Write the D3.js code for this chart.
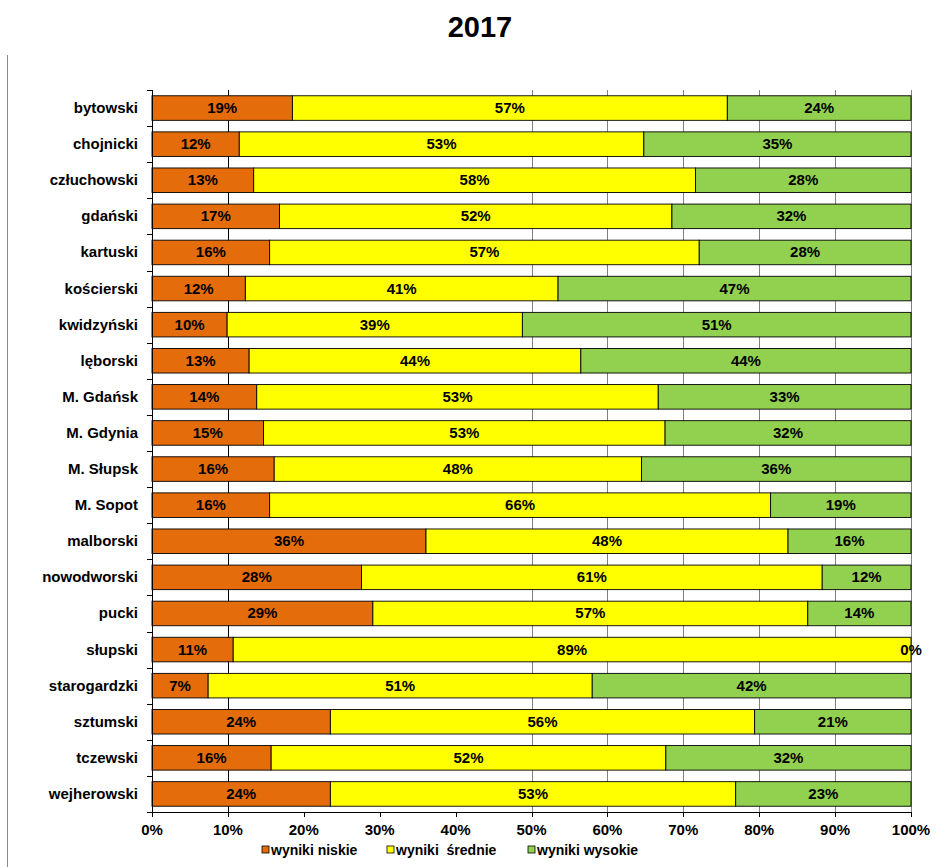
<!DOCTYPE html>
<html>
<head>
<meta charset="utf-8">
<script src="https://cdn.jsdelivr.net/npm/d3@7.9.0/dist/d3.min.js"></script>
<style>
  body { margin: 0; background: #fff; }
  svg text { font-family: "Liberation Sans", Arial, sans-serif; font-weight: bold; fill: #000; }
</style>
</head>
<body>
<svg id="chart" width="938" height="867"></svg>
<script>
// powiaty (top to bottom)
const categories = ['bytowski', 'chojnicki', 'człuchowski', 'gdański', 'kartuski', 'kościerski',
  'kwidzyński', 'lęborski', 'M. Gdańsk', 'M. Gdynia', 'M. Słupsk', 'M. Sopot', 'malborski',
  'nowodworski', 'pucki', 'słupski', 'starogardzki', 'sztumski', 'tczewski', 'wejherowski'];

// shares in %
const niskie  = [18.5, 11.5, 13.4, 16.8, 15.5, 12.3, 9.9, 12.8, 13.8, 14.7, 16.1, 15.5, 36.1, 27.6, 29.1, 10.7, 7.4, 23.5, 15.7, 23.5];
const srednie = [57.3, 53.3, 58.2, 51.7, 56.6, 41.2, 38.9, 43.7, 52.9, 52.9, 48.4, 66.0, 47.7, 60.7, 57.3, 89.3, 50.6, 55.9, 52.0, 53.4];
const wysokie = [24.2, 35.2, 28.4, 31.5, 27.9, 46.5, 51.2, 43.5, 33.3, 32.4, 35.5, 18.5, 16.2, 11.7, 13.6, 0.0, 42.0, 20.6, 32.3, 23.1];

const seriesKeys = ['niskie', 'srednie', 'wysokie'];
const seriesNames = ['wyniki niskie', 'wyniki  średnie', 'wyniki wysokie'];
const seriesColors = ['#e46c0a', '#ffff00', '#92d050'];

const xTicks = [0, 10, 20, 30, 40, 50, 60, 70, 80, 90, 100];
// gridlines that show in the picture
const gridTicks = [10, 50, 60, 70, 80, 90, 100];

const title = '2017';

const svg = d3.select('#chart');

const rows = categories.map((c, i) => ({
  cat: c, niskie: niskie[i], srednie: srednie[i], wysokie: wysokie[i]
}));

const x = d3.scaleLinear().domain([0, 100]).range([152, 911]);
const y = d3.scaleBand().domain(categories).range([90, 812])
  .paddingInner(0.32).paddingOuter(0.16);

const color = d3.scaleOrdinal().domain(seriesKeys).range(seriesColors);

/*frame line on the left*/
svg.append('line')
  .attr('x1', 7.5).attr('x2', 7.5).attr('y1', 55).attr('y2', 867)
  .attr('stroke', '#888').attr('stroke-width', 1);

/*title*/
svg.append('text')
  .attr('x', 480).attr('y', 37)
  .attr('text-anchor', 'middle')
  .style('font-size', '29px')
  .text(title);

/*gridlines*/
svg.append('g')
  .selectAll('line')
  .data(gridTicks)
  .join('line')
  .attr('x1', d => Math.round(x(d)) + 0.5)
  .attr('x2', d => Math.round(x(d)) + 0.5)
  .attr('y1', y.range()[0])
  .attr('y2', y.range()[1] + 5)
  .attr('stroke', d => d === 10 ? '#000' : '#808080')
  .attr('stroke-width', 1);

/*bars*/
const stacked = d3.stack().keys(seriesKeys)(rows);

const layer = svg.append('g')
  .selectAll('g')
  .data(stacked)
  .join('g')
  .attr('fill', d => color(d.key));

layer.selectAll('rect')
  .data(d => d)
  .join('rect')
  .attr('x', d => x(d[0]))
  .attr('y', d => y(d.data.cat))
  .attr('width', d => x(d[1]) - x(d[0]))
  .attr('height', y.bandwidth())
  .attr('stroke', '#000')
  .attr('stroke-width', 0.9);

/*value labels*/
const labels = svg.append('g');
stacked.forEach(s => {
  labels.selectAll(null)
    .data(s)
    .join('text')
    .attr('x', d => x((d[0] + d[1]) / 2))
    .attr('y', d => y(d.data.cat) + y.bandwidth() / 2 + 5)
    .attr('text-anchor', 'middle')
    .style('font-size', '15px')
    .text(d => Math.round(d.data[s.key]) + '%');
});

/*y axis*/
const step = y.step();
const y0 = y.range()[0];
svg.append('line')
  .attr('x1', 152.5).attr('x2', 152.5)
  .attr('y1', y0).attr('y2', y.range()[1])
  .attr('stroke', '#000');

svg.append('g')
  .selectAll('line')
  .data(d3.range(categories.length + 1))
  .join('line')
  .attr('x1', 147).attr('x2', 152)
  .attr('y1', i => Math.round(y0 + i * step) + 0.5)
  .attr('y2', i => Math.round(y0 + i * step) + 0.5)
  .attr('stroke', '#000');

svg.append('g')
  .selectAll('text')
  .data(categories)
  .join('text')
  .attr('x', 138)
  .attr('y', d => y(d) + y.bandwidth() / 2 + 5)
  .attr('text-anchor', 'end')
  .style('font-size', '15px')
  .text(d => d);

/*x axis*/
svg.append('line')
  .attr('x1', 147).attr('x2', 911)
  .attr('y1', 812.5).attr('y2', 812.5)
  .attr('stroke', '#000');

svg.append('g')
  .selectAll('line')
  .data(xTicks)
  .join('line')
  .attr('x1', d => Math.round(x(d)) + 0.5)
  .attr('x2', d => Math.round(x(d)) + 0.5)
  .attr('y1', 812).attr('y2', 817)
  .attr('stroke', '#000');

svg.append('g')
  .selectAll('text')
  .data(xTicks)
  .join('text')
  .attr('x', d => x(d))
  .attr('y', 835)
  .attr('text-anchor', 'middle')
  .style('font-size', '15px')
  .text(d => d + '%');

/*legend*/
const legendX = [262, 387, 528];
const legend = svg.append('g')
  .selectAll('g')
  .data(seriesKeys)
  .join('g')
  .attr('transform', (d, i) => `translate(${legendX[i]},846)`);

legend.append('rect')
  .attr('width', 7).attr('height', 7)
  .attr('fill', d => color(d))
  .attr('stroke', '#000').attr('stroke-width', 0.8);

legend.append('text')
  .attr('x', 9).attr('y', 9)
  .style('font-size', '14px')
  .style('white-space', 'pre')
  .attr('xml:space', 'preserve')
  .text((d, i) => seriesNames[i]);
</script>
</body>
</html>
